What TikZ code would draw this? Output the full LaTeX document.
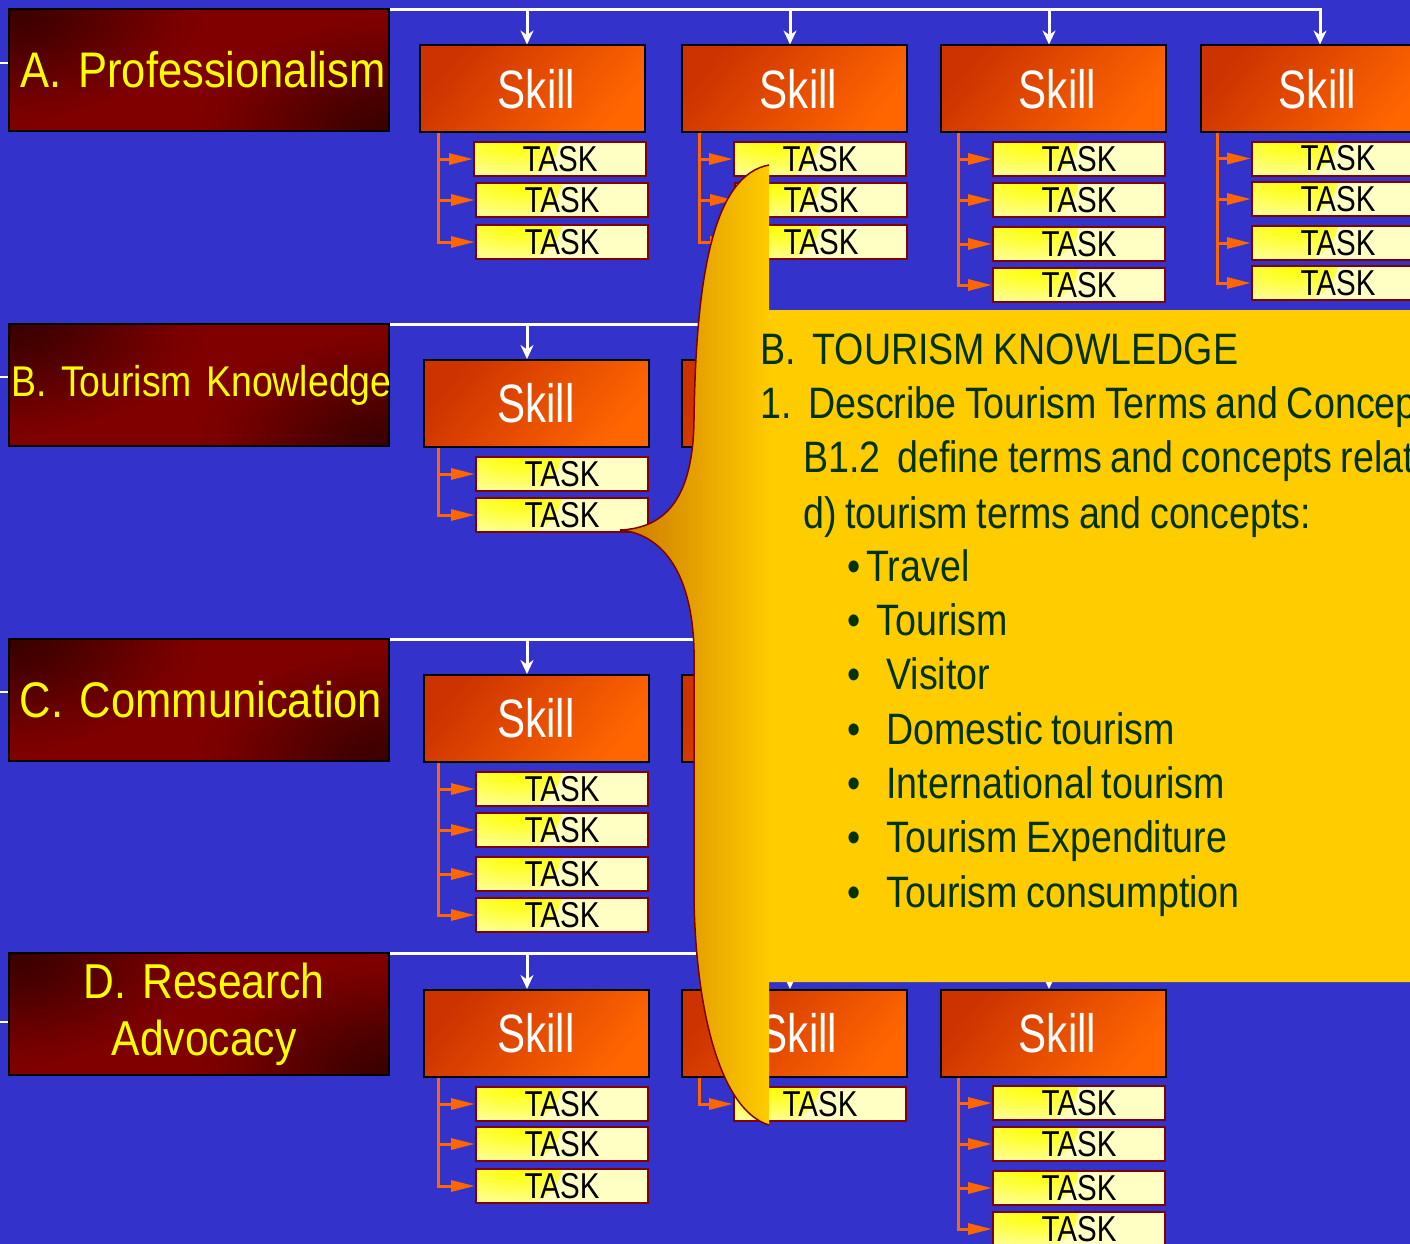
\documentclass[tikz,border=0pt]{standalone}
\usepackage{fontspec}
\setmainfont{Liberation Sans}
\newfontfamily\catfont[FakeStretch=0.87,WordSpace=0.7]{Liberation Sans}
\newfontfamily\skfont[FakeStretch=0.78]{Liberation Sans}
\newfontfamily\tkfont[FakeStretch=0.82]{Liberation Sans}
\newfontfamily\cofont[FakeStretch=0.855,WordSpace=0.8]{Liberation Sans}
\usetikzlibrary{arrows.meta}
\definecolor{bg}{HTML}{3333CC}
\definecolor{catdk}{HTML}{380000}
\definecolor{catrd}{HTML}{800000}
\definecolor{skA}{HTML}{CC3300}
\definecolor{skB}{HTML}{FF6600}
\definecolor{tkA}{HTML}{FFFF00}
\definecolor{tkC}{HTML}{FFFFC4}
\definecolor{tkline}{HTML}{800000}
\definecolor{orl}{HTML}{FF6600}
\definecolor{coY}{HTML}{FFCC00}
\definecolor{coL}{HTML}{CC7700}
\definecolor{coline}{HTML}{800000}
\definecolor{cotext}{HTML}{003300}
\definecolor{cattext}{HTML}{FFFF00}
\pgfdeclarehorizontalshading{skshade}{100bp}{color(0bp)=(skA); color(25bp)=(skA); color(75bp)=(skB); color(100bp)=(skB)}
\pgfdeclareradialshading{cornerdk}{\pgfpoint{0bp}{0bp}}{color(0bp)=(catdk); color(3bp)=(catdk!80!catrd); color(6bp)=(catdk!52!catrd); color(8.5bp)=(catdk!28!catrd); color(10.5bp)=(catdk!10!catrd); color(12bp)=(catdk!2!catrd); color(12.5bp)=(catrd); color(50bp)=(catrd)}
\pgfdeclareradialshading{cornerye}{\pgfpoint{0bp}{0bp}}{color(0bp)=(tkA); color(8bp)=(tkA!70!tkC); color(15bp)=(tkA!38!tkC); color(21bp)=(tkA!12!tkC); color(25bp)=(tkC); color(50bp)=(tkC)}
\tikzset{
  catbox/.style={draw=black, line width=2pt, fill=catrd,
    path picture={
      \shade[shading=cornerdk] ([shift={(-400pt,-240pt)}]path picture bounding box.north west) rectangle ([shift={(400pt,240pt)}]path picture bounding box.north west);
      \begin{scope}
      \clip (path picture bounding box.south west) -- (path picture bounding box.south east) -- (path picture bounding box.north east) -- cycle;
      \shade[shading=cornerdk] ([shift={(-400pt,-240pt)}]path picture bounding box.south east) rectangle ([shift={(400pt,240pt)}]path picture bounding box.south east);
      \end{scope}},
    text width=380pt, minimum height=122pt, inner sep=0pt, align=center, text=cattext, font=\catfont\fontsize{50}{56}\selectfont},
  skillbox/.style={draw=black, line width=2pt, shade, shading=skshade, shading angle=-40, minimum width=225pt, minimum height=87pt, inner sep=0pt, text=white, font=\skfont\fontsize{54}{60}\selectfont},
  taskbox/.style={draw=tkline, line width=2pt, fill=tkC,
    path picture={\shade[shading=cornerye] (path picture bounding box.north west) ellipse [x radius=85pt, y radius=48pt];},
    minimum width=172pt, minimum height=34pt, inner sep=0pt, text=black, font=\tkfont\fontsize{36}{40}\selectfont},
  wline/.style={draw=white, line width=3pt},
  warr/.style={wline, -{Stealth[length=14pt,width=13pt]}},
  oline/.style={draw=orl, line width=3pt},
  oarr/.style={oline, -{Triangle[length=24pt,width=11pt]}},
  cotxt/.style={anchor=base west, inner sep=0pt, text=cotext, font=\cofont\fontsize{44}{50}\selectfont},
}
\begin{document}
\begin{tikzpicture}[x=1pt,y=-1pt]
\useasboundingbox (0,0) rectangle (1410,1244);
\clip (0,0) rectangle (1410,1244);
\fill[bg] (0,0) rectangle (1410,1244);

% category boxes
\node[catbox] (catA) at (199,70) {\makebox[0pt][c]{\hspace{8pt}A. Professionalism}};
\node[catbox, font=\catfont\fontsize{43}{50}\selectfont] (catB) at (199,385) {\makebox[0pt][c]{\hspace{5pt}B. Tourism Knowledge}};
\node[catbox] (catC) at (199,700) {\makebox[0pt][c]{\hspace{4pt}C. Communication}};
\node[catbox, font=\catfont\fontsize{49}{57}\selectfont] (catD) at (199,1014) {\hspace{10pt}D. Research\\\hspace{10pt}Advocacy};

% left stubs
\coordinate (lA) at (0,63);
\coordinate (lB) at (0,377);
\coordinate (lC) at (0,692);
\coordinate (lD) at (0,1022);
\draw[wline, line width=2pt] (lA) -- (lA -| catA.west);
\draw[wline, line width=2pt] (lB) -- (lB -| catB.west);
\draw[wline, line width=2pt] (lC) -- (lC -| catC.west);
\draw[wline, line width=2pt] (lD) -- (lD -| catD.west);

% skill boxes
\node[skillbox] (sA1) at (532.5,89) {\hspace{8pt}Skill};
\node[skillbox] (sA2) at (794.5,89) {\hspace{8pt}Skill};
\node[skillbox] (sA3) at (1053.5,89) {\hspace{8pt}Skill};
\node[skillbox] (sA4) at (1313.5,89) {\hspace{8pt}Skill};
\node[skillbox] (sB1) at (536,403.5) {Skill};
\node[skillbox] (sB2) at (794.5,403.5) {};
\node[skillbox] (sC1) at (536,718.5) {Skill};
\node[skillbox] (sC2) at (794.5,718.5) {};
\node[skillbox] (sD1) at (536,1033.5) {Skill};
\node[skillbox] (sD2) at (794.5,1033.5) {\hspace{8pt}Skill};
\node[skillbox] (sD3) at (1053.5,1033.5) {\hspace{8pt}Skill};

% arrow inputs
\coordinate (inA1) at ([xshift=-5.5pt]sA1.north);
\coordinate (inA2) at ([xshift=-4.5pt]sA2.north);
\coordinate (inA3) at ([xshift=-4.5pt]sA3.north);
\coordinate (inA4) at ([xshift=6.5pt]sA4.north);
\coordinate (inB1) at ([xshift=-9pt]sB1.north);
\coordinate (inB2) at ([xshift=-4.5pt]sB2.north);
\coordinate (inC1) at ([xshift=-9pt]sC1.north);
\coordinate (inC2) at ([xshift=-4.5pt]sC2.north);
\coordinate (inD1) at ([xshift=-9pt]sD1.north);
\coordinate (inD2) at ([xshift=-4.5pt]sD2.north);
\coordinate (inD3) at ([xshift=-4.5pt]sD3.north);

% white connectors
\coordinate (jA) at ([yshift=-1.5pt]catA.north east);
\coordinate (jB) at ([yshift=-1.5pt]catB.north east);
\coordinate (jC) at ([yshift=-1.5pt]catC.north east);
\coordinate (jD) at ([yshift=-1.5pt]catD.north east);
\draw[warr] (jA) -| (inA4);
\draw[warr] (jA -| inA1) -- (inA1);
\draw[warr] (jA -| inA2) -- (inA2);
\draw[warr] (jA -| inA3) -- (inA3);
\draw[wline] (jB) -- (jB -| inB2);
\draw[warr] (jB -| inB1) -- (inB1);
\draw[warr] (jB -| inB2) -- (inB2);
\draw[wline] (jC) -- (jC -| inC2);
\draw[warr] (jC -| inC1) -- (inC1);
\draw[warr] (jC -| inC2) -- (inC2);
\draw[wline] (jD) -- (jD -| inD3);
\draw[warr] (jD -| inD1) -- (inD1);
\draw[warr] (jD -| inD2) -- (inD2);
\draw[warr] (jD -| inD3) -- (inD3);

% task boxes
\node[taskbox] (tA11) at (560,159) {TASK};
\node[taskbox] (tA12) at (562,200) {TASK};
\node[taskbox] (tA13) at (562,242) {TASK};
\node[taskbox] (tA21) at (820,159) {TASK};
\node[taskbox] (tA22) at (821,200) {TASK};
\node[taskbox] (tA23) at (821,242) {TASK};
\node[taskbox] (tA31) at (1079,159) {TASK};
\node[taskbox] (tA32) at (1079,200) {TASK};
\node[taskbox] (tA33) at (1079,244) {TASK};
\node[taskbox] (tA34) at (1079,285) {TASK};
\node[taskbox] (tA41) at (1338,158.5) {TASK};
\node[taskbox] (tA42) at (1338,199) {TASK};
\node[taskbox] (tA43) at (1338,243) {TASK};
\node[taskbox] (tA44) at (1338,283) {TASK};
\node[taskbox] (tB11) at (562,474) {TASK};
\node[taskbox] (tB12) at (562,515) {TASK};
\node[taskbox] (tC11) at (562,789) {TASK};
\node[taskbox] (tC12) at (562,830) {TASK};
\node[taskbox] (tC13) at (562,874) {TASK};
\node[taskbox] (tC14) at (562,915) {TASK};
\node[taskbox] (tD11) at (562,1104) {TASK};
\node[taskbox] (tD12) at (562,1144) {TASK};
\node[taskbox] (tD13) at (562,1186) {TASK};
\node[taskbox] (tD21) at (820,1104) {TASK};
\node[taskbox] (tD31) at (1079,1103) {TASK};
\node[taskbox] (tD32) at (1079,1144) {TASK};
\node[taskbox] (tD33) at (1079,1188) {TASK};
\node[taskbox] (tD34) at (1079,1229) {TASK};

% orange connectors
\coordinate (vA1) at ([xshift=19pt]sA1.south west);
\coordinate (vA2) at ([xshift=18pt]sA2.south west);
\coordinate (vA3) at ([xshift=18pt]sA3.south west);
\coordinate (vA4) at ([xshift=17pt]sA4.south west);
\coordinate (vB1) at ([xshift=16pt]sB1.south west);
\coordinate (vC1) at ([xshift=16pt]sC1.south west);
\coordinate (vD1) at ([xshift=16pt]sD1.south west);
\coordinate (vD2) at ([xshift=18pt]sD2.south west);
\coordinate (vD3) at ([xshift=18pt]sD3.south west);

\draw[oline] (vA1) -- ([yshift=-1.5pt]vA1 |- tA13.west);
\draw[oarr] (vA1 |- tA11.west) -- (tA11.west);
\draw[oarr] (vA1 |- tA12.west) -- (tA12.west);
\draw[oarr] (vA1 |- tA13.west) -- (tA13.west);

\draw[oline] (vA2) -- ([yshift=-1.5pt]vA2 |- tA23.west);
\draw[oarr] (vA2 |- tA21.west) -- (tA21.west);
\draw[oarr] (vA2 |- tA22.west) -- (tA22.west);
\draw[oarr] (vA2 |- tA23.west) -- (tA23.west);

\draw[oline] (vA3) -- ([yshift=-1.5pt]vA3 |- tA34.west);
\draw[oarr] (vA3 |- tA31.west) -- (tA31.west);
\draw[oarr] (vA3 |- tA32.west) -- (tA32.west);
\draw[oarr] (vA3 |- tA33.west) -- (tA33.west);
\draw[oarr] (vA3 |- tA34.west) -- (tA34.west);

\draw[oline] (vA4) -- ([yshift=-1.5pt]vA4 |- tA44.west);
\draw[oarr] (vA4 |- tA41.west) -- (tA41.west);
\draw[oarr] (vA4 |- tA42.west) -- (tA42.west);
\draw[oarr] (vA4 |- tA43.west) -- (tA43.west);
\draw[oarr] (vA4 |- tA44.west) -- (tA44.west);

\draw[oline] (vB1) -- ([yshift=-1.5pt]vB1 |- tB12.west);
\draw[oarr] (vB1 |- tB11.west) -- (tB11.west);
\draw[oarr] (vB1 |- tB12.west) -- (tB12.west);

\draw[oline] (vC1) -- ([yshift=-1.5pt]vC1 |- tC14.west);
\draw[oarr] (vC1 |- tC11.west) -- (tC11.west);
\draw[oarr] (vC1 |- tC12.west) -- (tC12.west);
\draw[oarr] (vC1 |- tC13.west) -- (tC13.west);
\draw[oarr] (vC1 |- tC14.west) -- (tC14.west);

\draw[oline] (vD1) -- ([yshift=-1.5pt]vD1 |- tD13.west);
\draw[oarr] (vD1 |- tD11.west) -- (tD11.west);
\draw[oarr] (vD1 |- tD12.west) -- (tD12.west);
\draw[oarr] (vD1 |- tD13.west) -- (tD13.west);

\draw[oline] (vD2) -- ([yshift=-1.5pt]vD2 |- tD21.west);
\draw[oarr] (vD2 |- tD21.west) -- (tD21.west);

\draw[oline] (vD3) -- ([yshift=-1.5pt]vD3 |- tD34.west);
\draw[oarr] (vD3 |- tD31.west) -- (tD31.west);
\draw[oarr] (vD3 |- tD32.west) -- (tD32.west);
\draw[oarr] (vD3 |- tD33.west) -- (tD33.west);
\draw[oarr] (vD3 |- tD34.west) -- (tD34.west);

% callout
\begin{scope}
\clip (769,165) .. controls (715,175) and (696,270) .. (694,420)
  .. controls (693,495) and (668,528) .. (620,530)
  .. controls (662,534) and (692,572) .. (694,650)
  -- (694,900) .. controls (696,1010) and (720,1110) .. (769,1125)
  -- (769,982) -- (1410,982) -- (1410,310) -- (769,310) -- cycle;
\shade[left color=coL, right color=coY] (620,160) rectangle (770,1130);
\fill[coY] (769.5,160) rectangle (1410,1130);
\end{scope}
\draw[coline, line width=1.5pt] (769,165) .. controls (715,175) and (696,270) .. (694,420)
  .. controls (693,495) and (668,528) .. (620,530)
  .. controls (662,534) and (692,572) .. (694,650)
  -- (694,900) .. controls (696,1010) and (720,1110) .. (769,1125);

\node[cotxt] (co1) at (760,364) {B.\ \ TOURISM KNOWLEDGE};
\node[cotxt] (co2) at (760,418) {1.\ \ Describe Tourism Terms and Concepts};
\node[cotxt] (co3) at (803,472) {B1.2\ \ define terms and concepts related to tourism};
\node[cotxt] (co4) at (803,528) {d) tourism terms and concepts:};
\node[cotxt] (co5) at (847,581) {•\hspace{6pt}Travel};
\node[cotxt] (co6) at (847,635) {•\hspace{16pt}Tourism};
\node[cotxt] (co7) at (847,689) {•\hspace{26pt}Visitor};
\node[cotxt] (co8) at (847,744) {•\hspace{26pt}Domestic tourism};
\node[cotxt] (co9) at (847,798) {•\hspace{26pt}International tourism};
\node[cotxt] (co10) at (847,852) {•\hspace{26pt}Tourism Expenditure};
\node[cotxt] (co11) at (847,907) {•\hspace{26pt}Tourism consumption};
\end{tikzpicture}
\end{document}
